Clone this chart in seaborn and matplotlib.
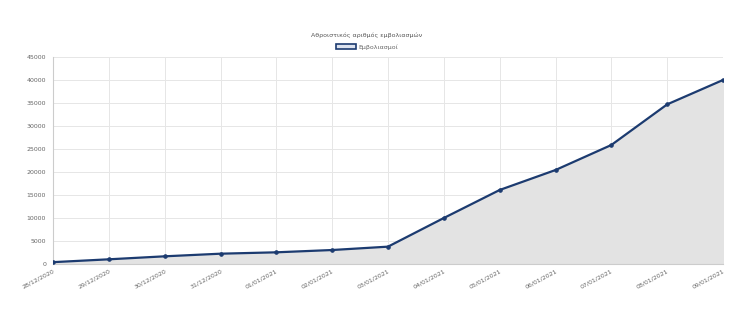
import matplotlib
matplotlib.use("Agg")
import matplotlib.pyplot as plt
import seaborn as sns
import pandas as pd
from matplotlib.patches import Patch

dates = ["28/12/2020", "29/12/2020", "30/12/2020", "31/12/2020", "01/01/2021",
         "02/01/2021", "03/01/2021", "04/01/2021", "05/01/2021", "06/01/2021",
         "07/01/2021", "08/01/2021", "09/01/2021"]
vaccinations = [400, 1020, 1670, 2240, 2540, 3040, 3770, 10000, 16090, 20430,
                25870, 34700, 40000]
yticks = [0, 5000, 10000, 15000, 20000, 25000, 30000, 35000, 40000, 45000]
title = "Αθροιστικός αριθμός εμβολιασμών"
series_name = "Εμβολιασμοί"

df = pd.DataFrame({"date": dates, "value": vaccinations})

sns.set_theme(style="white")
plt.rcParams["font.family"] = ["DejaVu Sans"]

fig = plt.figure(figsize=(7.34, 3.09), dpi=100)
ax = fig.add_axes([53/734, 1-264/309, (723-53)/734, (264-57)/309])

line_color = "#1c3b70"
ax.fill_between(df["date"], df["value"], 0, color="#e3e3e3", zorder=1)
sns.lineplot(data=df, x="date", y="value", ax=ax, color=line_color, linewidth=1.6,
             marker="o", markersize=2.5, markeredgecolor=line_color, zorder=3)

ax.set_xlim(0, len(dates) - 1)
ax.set_ylim(0, 45000)
ax.set_yticks(yticks)
ax.set_yticklabels([str(v) for v in yticks])
ax.set_xlabel("")
ax.set_ylabel("")
ax.grid(True, color="#e6e6e6", linewidth=0.7)
ax.set_axisbelow(True)
for s in ["top", "right"]:
    ax.spines[s].set_visible(False)
for s in ["left", "bottom"]:
    ax.spines[s].set_color("#cccccc")
    ax.spines[s].set_linewidth(0.8)
ax.tick_params(axis="both", labelsize=4.5, colors="#666666", length=0, pad=3)
ax.tick_params(axis="y", length=2, color="#cccccc")
plt.setp(ax.get_xticklabels(), rotation=28, ha="right", rotation_mode="anchor")

fig.text(0.5, 1-35/309, title, ha="center", va="center", fontsize=4.5, color="#555555")
handle = Patch(facecolor="#dde3ef", edgecolor=line_color, linewidth=1.2)
fig.legend([handle], [series_name], loc="center", bbox_to_anchor=(0.5, 1-47/309),
           frameon=False, fontsize=4.5, handlelength=3.2, handleheight=0.9,
           labelcolor="#666666", handletextpad=0.5)

fig.savefig("out.png", dpi=100)
